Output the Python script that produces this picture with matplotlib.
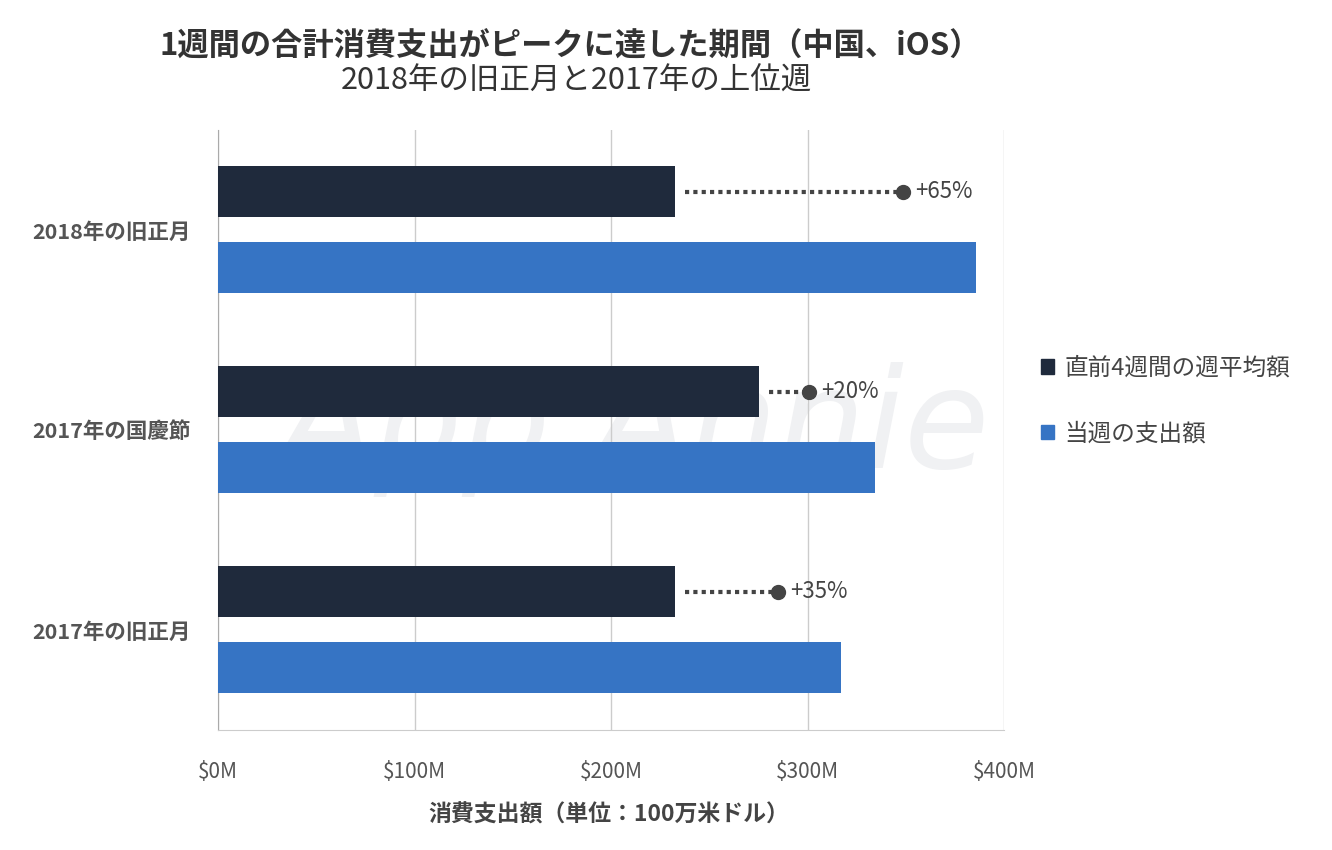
import numpy as np
import matplotlib
matplotlib.use("Agg")
from matplotlib import pyplot as plt
from matplotlib.patches import Patch

plt.rcParams['font.family'] = ['Noto Sans CJK JP', 'DejaVu Sans']

categories = ['2018年の旧正月', '2017年の国慶節', '2017年の旧正月']
prior_avg = [232.6, 275.3, 232.6]     # 直前4週間の週平均額 ($M)
week_spend = [385.5, 334.5, 317.0]    # 当週の支出額 ($M)
dot_pos = [348.6, 300.8, 285.0]
pct_labels = ['+65%', '+20%', '+35%']
xticks = [0, 100, 200, 300, 400]
xtick_labels = ['$0M', '$100M', '$200M', '$300M', '$400M']
series_names = ['直前4週間の週平均額', '当週の支出額']

dark = '#1f2a3c'
blue = '#3674c4'

fig = plt.figure(figsize=(13.32, 8.5), dpi=100)
ax = fig.add_axes([0.1637, 0.1412, 0.5901, 0.7059])

y = np.arange(len(categories))
h = 0.255
off = 0.19

ax.barh(y - off, prior_avg, height=h, color=dark, zorder=3)
ax.barh(y + off, week_spend, height=h, color=blue, zorder=3)

for i in range(len(categories)):
    ax.plot([prior_avg[i] + 5, dot_pos[i]], [y[i] - off, y[i] - off],
            linestyle=(0, (1, 1)), lw=3, color='#444444', zorder=4)
    ax.plot(dot_pos[i], y[i] - off, 'o', ms=10, color='#444444', zorder=5)
    ax.text(dot_pos[i] + 6, y[i] - off, pct_labels[i], va='center', ha='left',
            fontsize=16, color='#444444')

# faint watermark behind the bars
ax.text(0.53, 0.5, 'App Annie', transform=ax.transAxes, fontsize=100,
        style='italic', color='#f0f1f3', ha='center', va='center',
        zorder=1, family='DejaVu Sans')

ax.set_xlim(0, 400)
ax.set_ylim(2.5, -0.5)
ax.set_xticks(xticks)
ax.set_xticklabels(xtick_labels, fontsize=15, color='#555555')
ax.set_yticks(y)
ax.set_yticklabels(categories, fontsize=15.5, fontweight='bold', color='#555555')
ax.tick_params(axis='x', length=0, pad=22)
ax.tick_params(axis='y', length=0, pad=20)
ax.grid(axis='x', color='#cccccc', lw=1, zorder=2)
for s in ['top', 'right']:
    ax.spines[s].set_visible(False)
ax.spines['left'].set_color('#aaaaaa')
ax.spines['bottom'].set_color('#cccccc')

handles = [Patch(color=dark), Patch(color=blue)]
leg = ax.legend(handles, series_names, loc='center left', bbox_to_anchor=(1.02, 0.548),
                frameon=False, fontsize=17, handlelength=0.55, handleheight=0.55,
                handletextpad=0.45, labelspacing=1.8, labelcolor='#444444')

fig.text(0.457, 0.041, '消費支出額（単位：100万米ドル）', ha='center', va='center',
         fontsize=16.5, fontweight='bold', color='#444444')
fig.text(0.428, 0.945, '1週間の合計消費支出がピークに達した期間（中国、iOS）', ha='center',
         va='center', fontsize=22.5, fontweight='bold', color='#333333')
fig.text(0.433, 0.905, '2018年の旧正月と2017年の上位週', ha='center', va='center',
         fontsize=22, color='#333333')

fig.savefig('out.png', dpi=100)
